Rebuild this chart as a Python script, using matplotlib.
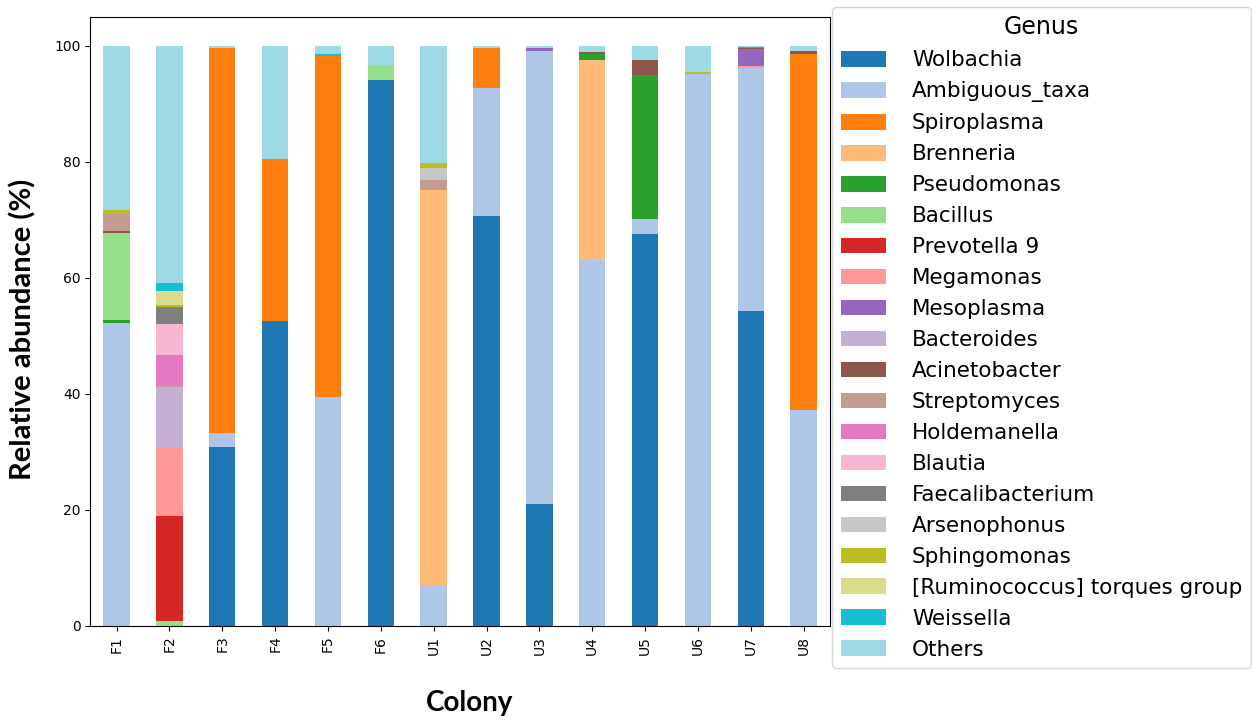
import matplotlib
matplotlib.use('Agg')
import matplotlib.pyplot as plt
import pandas as pd
import numpy as np

colonies = ['F1', 'F2', 'F3', 'F4', 'F5', 'F6', 'U1', 'U2', 'U3', 'U4', 'U5', 'U6', 'U7', 'U8']

# relative abundance (%) per genus, one value per colony
wolbachia      = [0.0, 0.0, 30.9, 52.6, 0.0, 94.1, 0.0, 70.7, 21.0, 0.0, 67.5, 0.0, 54.3, 0.0]
ambiguous_taxa = [52.3, 0.0, 2.4, 0.0, 39.5, 0.0, 7.1, 22.1, 78.1, 63.3, 2.7, 95.1, 41.9, 37.2]
spiroplasma    = [0.0, 0.0, 66.3, 27.9, 58.8, 0.0, 0.0, 6.8, 0.0, 0.0, 0.0, 0.0, 0.0, 61.4]
brenneria      = [0.0, 0.0, 0.0, 0.0, 0.0, 0.0, 68.1, 0.0, 0.0, 34.3, 0.0, 0.0, 0.0, 0.0]
pseudomonas    = [0.4, 0.0, 0.0, 0.0, 0.0, 0.0, 0.0, 0.0, 0.0, 1.0, 24.8, 0.0, 0.0, 0.0]
bacillus       = [15.0, 0.8, 0.0, 0.0, 0.0, 2.6, 0.0, 0.0, 0.0, 0.0, 0.0, 0.0, 0.0, 0.0]
prevotella_9   = [0.0, 18.1, 0.0, 0.0, 0.0, 0.0, 0.0, 0.0, 0.0, 0.0, 0.0, 0.0, 0.0, 0.0]
megamonas      = [0.0, 11.9, 0.0, 0.0, 0.0, 0.0, 0.0, 0.0, 0.0, 0.0, 0.0, 0.0, 0.3, 0.0]
mesoplasma     = [0.0, 0.0, 0.0, 0.0, 0.0, 0.0, 0.0, 0.0, 0.5, 0.0, 0.0, 0.0, 2.9, 0.0]
bacteroides    = [0.0, 10.4, 0.0, 0.0, 0.0, 0.0, 0.0, 0.0, 0.0, 0.0, 0.0, 0.0, 0.0, 0.0]
acinetobacter  = [0.4, 0.0, 0.0, 0.0, 0.0, 0.0, 0.0, 0.0, 0.0, 0.3, 2.6, 0.0, 0.2, 0.6]
streptomyces   = [3.0, 0.3, 0.0, 0.0, 0.0, 0.0, 1.7, 0.0, 0.0, 0.0, 0.0, 0.0, 0.0, 0.0]
holdemanella   = [0.0, 5.3, 0.0, 0.0, 0.0, 0.0, 0.0, 0.0, 0.0, 0.0, 0.0, 0.0, 0.0, 0.0]
blautia        = [0.0, 5.2, 0.0, 0.0, 0.0, 0.0, 0.0, 0.0, 0.0, 0.0, 0.0, 0.0, 0.0, 0.0]
faecalibact    = [0.0, 3.0, 0.0, 0.0, 0.0, 0.0, 0.0, 0.0, 0.0, 0.0, 0.0, 0.0, 0.0, 0.0]
arsenophonus   = [0.0, 0.0, 0.0, 0.0, 0.0, 0.0, 2.1, 0.0, 0.0, 0.0, 0.0, 0.0, 0.0, 0.0]
sphingomonas   = [0.7, 0.3, 0.0, 0.0, 0.0, 0.0, 0.9, 0.0, 0.0, 0.0, 0.0, 0.4, 0.0, 0.0]
ruminococcus   = [0.0, 2.5, 0.0, 0.0, 0.0, 0.0, 0.0, 0.0, 0.0, 0.0, 0.0, 0.0, 0.0, 0.0]
weissella      = [0.0, 1.4, 0.0, 0.0, 0.3, 0.0, 0.0, 0.0, 0.0, 0.0, 0.0, 0.0, 0.2, 0.0]
others         = [28.2, 40.8, 0.4, 19.5, 1.4, 3.3, 20.1, 0.4, 0.4, 1.1, 2.4, 4.5, 0.2, 0.8]

genera = ['Wolbachia', 'Ambiguous_taxa', 'Spiroplasma', 'Brenneria', 'Pseudomonas',
          'Bacillus', 'Prevotella 9', 'Megamonas', 'Mesoplasma', 'Bacteroides',
          'Acinetobacter', 'Streptomyces', 'Holdemanella', 'Blautia', 'Faecalibacterium',
          'Arsenophonus', 'Sphingomonas', '[Ruminococcus] torques group', 'Weissella', 'Others']

series = [wolbachia, ambiguous_taxa, spiroplasma, brenneria, pseudomonas, bacillus,
          prevotella_9, megamonas, mesoplasma, bacteroides, acinetobacter, streptomyces,
          holdemanella, blautia, faecalibact, arsenophonus, sphingomonas, ruminococcus,
          weissella, others]

df = pd.DataFrame(dict(zip(genera, series)), index=colonies)

fig = plt.figure(figsize=(12.52, 7.2), dpi=100)
ax = fig.add_axes([0.072, 0.1306, 0.591, 0.8458])

df.plot(kind='bar', stacked=True, colormap='tab20', ax=ax, width=0.5, legend=False)

ax.set_ylim(0, 105)
ax.set_xlim(-0.5, 13.5)
ax.tick_params(axis='both', labelsize=10)

# axis titles placed on the figure so they sit well clear of the ticks
fig.text(0.018, 0.542, 'Relative abundance (%)', rotation=90, ha='center', va='center',
         fontsize=21, fontweight='bold', family='Lato')
fig.text(0.375, 0.024, 'Colony', ha='center', va='center',
         fontsize=20, fontweight='bold', family='Lato')

handles, labels = ax.get_legend_handles_labels()
leg = ax.legend(handles, labels, title='Genus', loc='upper left',
                bbox_to_anchor=(1.003, 1.017), fontsize=15.5, title_fontsize=17,
                handlelength=2.1, handleheight=0.75, labelspacing=0.51,
                borderaxespad=0.0, handletextpad=1.2)

fig.savefig('out.png', dpi=100)
